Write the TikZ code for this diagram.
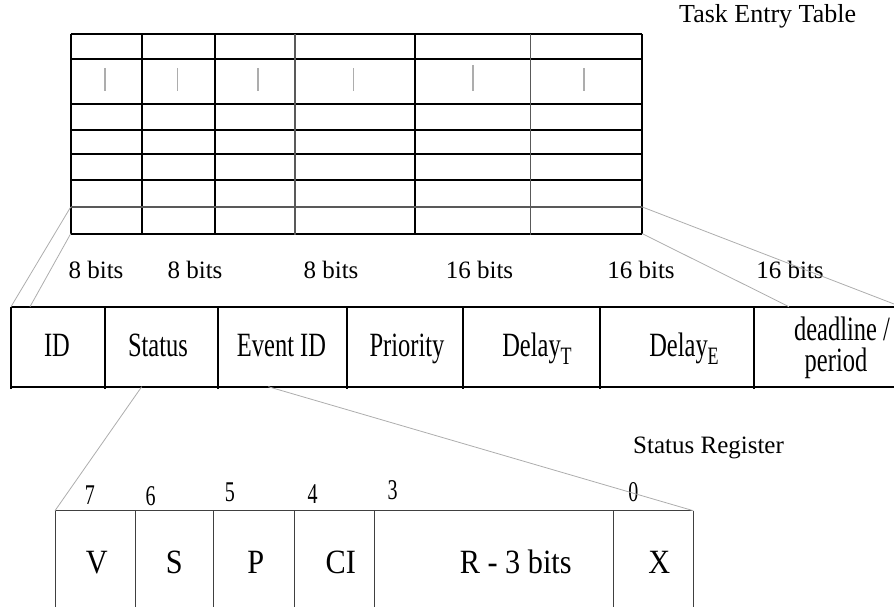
\documentclass[tikz,border=0pt]{standalone}
\usepackage{fontspec}
\setmainfont{Liberation Serif}
\newfontfamily\fieldfont[FakeStretch=0.72]{Liberation Serif}
\newfontfamily\bitfont[FakeStretch=0.89]{Liberation Serif}
\newfontfamily\numfont[FakeStretch=0.7]{Liberation Serif}

\begin{document}
\begin{tikzpicture}[x=1pt,y=-1pt,
  gridline/.style={line width=1.7pt,black},
  grayline/.style={line width=1.5pt,black!65},
  tickline/.style={line width=1.3pt,black!32},
  zoomline/.style={line width=0.8pt,black!32},
  entryline/.style={line width=1.7pt,black},
  regline/.style={line width=1pt,black!75},
  plain/.style={inner sep=0pt,anchor=base,font=\fontsize{25}{30}\selectfont},
  field/.style={inner sep=0pt,anchor=base,font=\fieldfont\fontsize{34}{36}\selectfont},
  bitname/.style={inner sep=0pt,anchor=base,font=\bitfont\fontsize{34}{36}\selectfont},
  bitnum/.style={inner sep=0pt,anchor=base,font=\numfont\fontsize{28.6}{30}\selectfont}]
\useasboundingbox (0,0) rectangle (894,607);

% ---------- task entry table ----------
\foreach \y in {34,59,103.7,129.7,154,180,233.7}
  \draw[gridline] (70.7,\y) -- (642.3,\y);
\foreach \x in {70.7,141.7,214.7,415,642.3}
  \draw[gridline] (\x,34) -- (\x,233.7);
\draw[grayline] (70.7,207) -- (642.3,207);
\foreach \x in {295,530.7}
  \draw[grayline] (\x,34) -- (\x,235);
% faint marks in the second row
\foreach \x in {105,177.7,258,353.7,584}
  \draw[tickline] (\x,68) -- (\x,91);
\draw[tickline] (473,65) -- (473,91);

\coordinate (tblTL) at (70.7,207);
\coordinate (tblBL) at (70.7,233.7);
\coordinate (tblTR) at (642.3,207);
\coordinate (tblBR) at (642.3,233.7);

\node[plain,anchor=base west,font=\fontsize{26}{30}\selectfont] (title) at (679,23) {Task Entry Table};

% ---------- field widths ----------
\node[plain] (w1) at (96,278) {8 bits};
\node[plain] (w2) at (195,278) {8 bits};
\node[plain] (w3) at (331,278) {8 bits};
\node[plain] (w4) at (479.5,278) {16 bits};
\node[plain] (w5) at (641,278) {16 bits};
\node[plain] (w6) at (790,278) {16 bits};

% ---------- one entry ----------
\draw[entryline] (11,306.7) -- (894,306.7);
\draw[entryline] (11,386.7) -- (894,386.7);
\foreach \x in {11,105.3,218.3,346.7,462.7,600,754.3}
  \draw[entryline] (\x,306.7) -- (\x,389);

\coordinate (entA) at (11,306.7);
\coordinate (entB) at (30,306.7);
\coordinate (entC) at (789,306.7);
\coordinate (entD) at (894,304);
\coordinate (statusL) at (141.7,386.7);
\coordinate (statusR) at (268.3,386.7);

\node[field] (fID) at (57,356) {ID};
\node[field] (fStatus) at (158,356) {Status};
\node[field] (fEvent) at (281.5,356) {Event ID};
\node[field] (fPrio) at (407,356) {Priority};
\node[field] (fDT) at (537,356) {Delay\raisebox{-8pt}{\fontsize{25}{25}\selectfont T}};
\node[field] (fDE) at (684,356) {Delay\raisebox{-8pt}{\fontsize{25}{25}\selectfont E}};
\node[field] (fDL1) at (842,340) {deadline /};
\node[field] (fDL2) at (836,371.7) {period};

% ---------- status register ----------
\draw[regline] (55,510.7) -- (693.3,510.7);
\foreach \x in {55,135,213,294,374.3,613.3,693.3}
  \draw[regline] (\x,510.7) -- (\x,607);

\coordinate (regL) at (55,510.7);
\coordinate (regR) at (693.3,510.7);

\node[plain,anchor=base west] (regtitle) at (633,453) {Status Register};

\node[bitnum] (n7) at (90,504) {7};
\node[bitnum] (n6) at (150.7,505) {6};
\node[bitnum] (n5) at (230,501) {5};
\node[bitnum] (n4) at (312.7,503) {4};
\node[bitnum] (n3) at (392.7,499) {3};
\node[bitnum] (n0) at (633.3,501) {0};

\node[bitname] (bV) at (96.7,573) {V};
\node[bitname] (bS) at (174.3,573) {S};
\node[bitname] (bP) at (255.7,573) {P};
\node[bitname] (bCI) at (340.7,573) {CI};
\node[bitname] (bR) at (515.7,573) {R - 3 bits};
\node[bitname] (bX) at (659.3,573) {X};

% ---------- expansion lines ----------
\draw[zoomline] (tblTL) -- (entA);
\draw[zoomline] (tblBL) -- (entB);
\draw[zoomline] (tblBR) -- (entC);
\draw[zoomline] (tblTR) -- (entD);
\draw[zoomline] (statusL) -- (regL);
\draw[zoomline] (statusR) -- (regR);
\end{tikzpicture}
\end{document}
